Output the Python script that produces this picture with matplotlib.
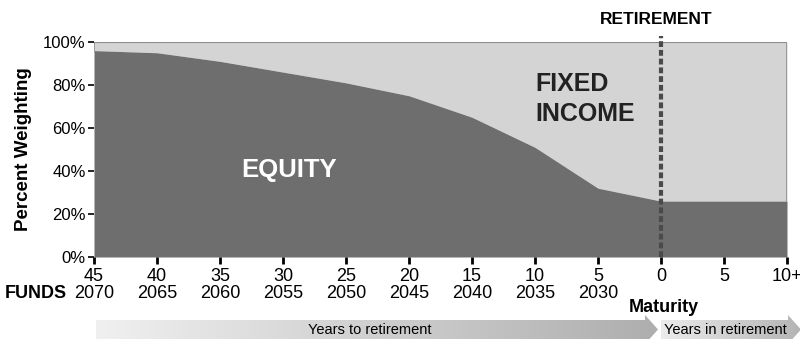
import matplotlib
matplotlib.use("Agg")
import matplotlib.pyplot as plt
import numpy as np
from matplotlib.patches import Polygon
from matplotlib import font_manager

# Glide path data
years_labels = ["45", "40", "35", "30", "25", "20", "15", "10", "5", "0", "5", "10+"]
fund_labels = ["2070", "2065", "2060", "2055", "2050", "2045", "2040", "2035", "2030"]
equity_pct = [96, 95, 91, 86, 81, 75, 65, 51, 32, 26, 26, 26]
y_ticks = [0, 20, 40, 60, 80, 100]

names = {f.name for f in font_manager.fontManager.ttflist}
NARROW = ["Liberation Sans Narrow", "Liberation Sans"] if "Liberation Sans Narrow" in names else ["Liberation Sans"]
REG = ["Liberation Sans"]

W, H = 800, 339
fig = plt.figure(figsize=(W / 100, H / 100), dpi=100)

# main axes in pixel geometry
L, R, T, B = 94, 787, 42, 257
ax = fig.add_axes([L / W, 1 - B / H, (R - L) / W, (B - T) / H])

x = np.arange(len(years_labels))
eq = np.array(equity_pct, dtype=float)

DARK = "#6e6e6e"
LIGHT = "#d4d4d4"
EDGE = "#8c8c8c"

ax.fill_between(x, eq, 100, color=LIGHT, lw=0)
ax.fill_between(x, 0, eq, color=DARK, lw=0)
# outline of the fixed-income region
ax.plot([0, 0], [eq[0], 100], color=EDGE, lw=1.2)
ax.plot([0, x[-1]], [100, 100], color=EDGE, lw=1.5)
ax.plot([x[-1], x[-1]], [eq[-1], 100], color=EDGE, lw=1.2)

ax.set_xlim(0, x[-1])
ax.set_ylim(0, 100)
for s in ax.spines.values():
    s.set_visible(False)

ax.set_yticks(y_ticks)
ax.set_yticklabels([f"{v}%" for v in y_ticks], family=NARROW, fontsize=12)
ax.tick_params(axis="y", length=4, width=1.2, color="black", pad=2)
ax.set_xticks(x)
ax.set_xticklabels(years_labels, family=NARROW, fontsize=13)
ax.tick_params(axis="x", length=5, width=2, color="black", pad=3)

# fund vintage row
for i, lab in enumerate(fund_labels):
    ax.text(x[i], -17, lab, ha="center", va="center", family=NARROW,
            fontsize=13, clip_on=False)

ax.set_ylabel("Percent Weighting", family=NARROW, fontsize=13.5,
              fontweight="bold", labelpad=8)

# retirement marker
ret_x = years_labels.index("0")
ax.plot([ret_x, ret_x], [0, 103], color="#4a4a4a", lw=3,
        ls=(0, (1.4, 0.7)), clip_on=False, zorder=5)

ax.text(3.1, 40.5, "EQUITY", color="white", fontsize=18.5, fontweight="bold",
        family=REG, ha="center", va="center")
ax.text(7.0, 80.5, "FIXED", color="#222222", fontsize=18, fontweight="bold",
        family=REG, ha="left", va="center")
ax.text(7.0, 66.3, "INCOME", color="#222222", fontsize=18, fontweight="bold",
        family=REG, ha="left", va="center")

# overlay in pixel coordinates for annotations outside the plot
ov = fig.add_axes([0, 0, 1, 1], zorder=10)
ov.set_xlim(0, W)
ov.set_ylim(H, 0)
ov.axis("off")
ov.patch.set_alpha(0)

ov.text(656, 19, "RETIREMENT", ha="center", va="center", family=NARROW,
        fontsize=12.5, fontweight="bold")
ov.text(36, 294, "FUNDS", ha="center", va="center", family=NARROW,
        fontsize=13, fontweight="bold")
ov.text(664, 307, "Maturity", ha="center", va="center", family=NARROW,
        fontsize=13, fontweight="bold")


def gradient_arrow(x0, x1, head, c0, c1, label, label_x):
    yc = 329.5
    pts = [(x0, 320), (x1 - head, 320), (x1 - head, 315), (x1, yc),
           (x1 - head, 344), (x1 - head, 339), (x0, 339)]
    poly = Polygon(pts, closed=True, facecolor="none", edgecolor="none")
    ov.add_patch(poly)
    grad = np.linspace(0, 1, 256)[None, :]
    c0 = np.array(matplotlib.colors.to_rgb(c0))
    c1 = np.array(matplotlib.colors.to_rgb(c1))
    img = c0[None, None, :] * (1 - grad[..., None]) + c1[None, None, :] * grad[..., None]
    im = ov.imshow(img, extent=(x0, x1, 345, 314), aspect="auto",
                   interpolation="bilinear")
    im.set_clip_path(poly)
    ov.text(label_x, 330, label, ha="center", va="center", family=NARROW,
            fontsize=10.5)


gradient_arrow(96, 658, 13, "#f0f0f0", "#aeaeae", "Years to retirement", 370)
gradient_arrow(661, 801, 13, "#ececec", "#b4b4b4", "Years in retirement", 725)
ov.set_xlim(0, W)
ov.set_ylim(H, 0)

fig.savefig("out.png", dpi=100)
